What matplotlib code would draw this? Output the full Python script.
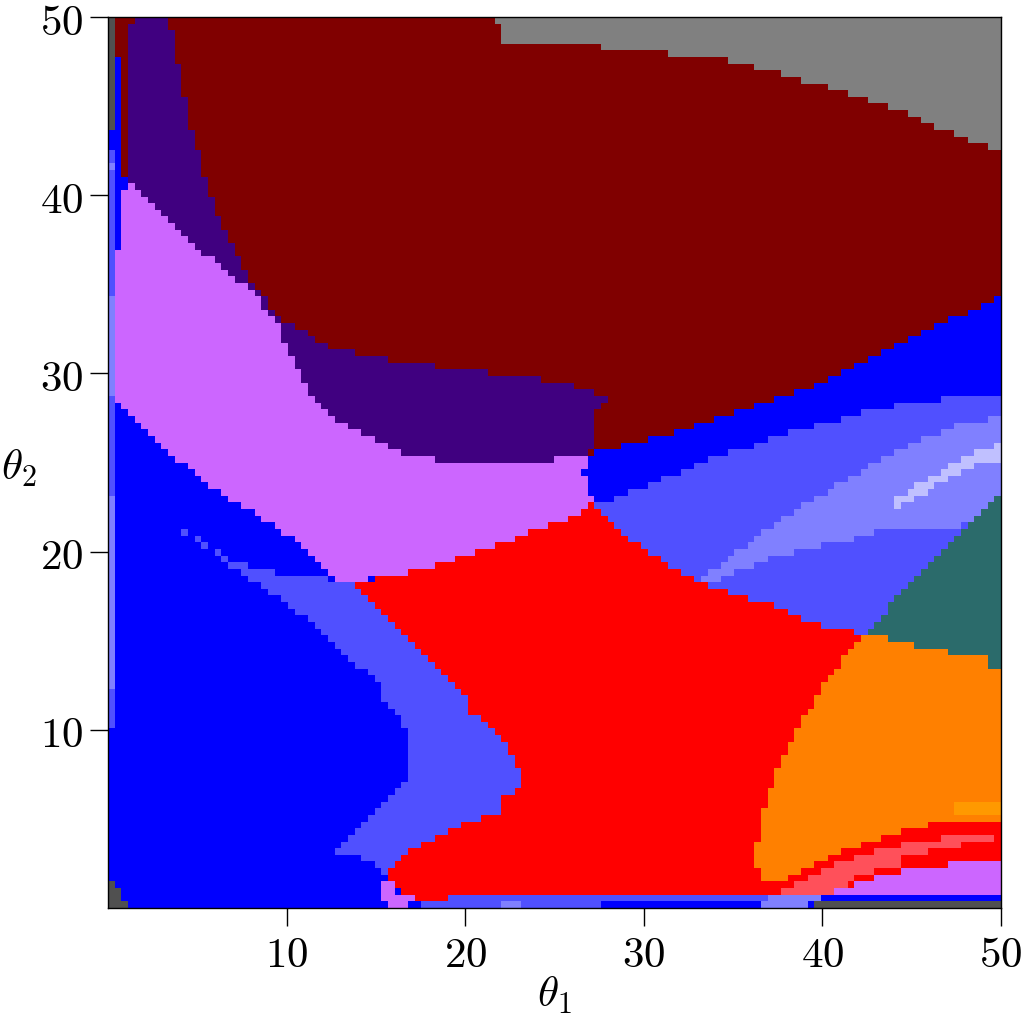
import numpy as np
import matplotlib
matplotlib.use('Agg')
import matplotlib.pyplot as plt
from matplotlib.path import Path
from matplotlib.colors import ListedColormap

# region colours, index = label in the grid
colorNames = ['blue', 'maroon', 'grey', 'indigo', 'violet', 'peri', 'light',
              'vlight', 'red', 'orange', 'lorange', 'teal', 'pink', 'dgrey']
colorValues = ['#0000FF', '#800000', '#808080', '#400080', '#CC66FF', '#5050FF',
               '#8080FF', '#C0C0FF', '#FF0000', '#FF8000', '#FF9900', '#2B6B6B',
               '#FF505A', '#505050']

# region boundaries in (theta1, theta2)
maroon = [(0, 50), (50, 50), (50, 34.25), (47.14, 33.02), (44.34, 31.61), (42.10, 30.49),
          (40.26, 29.65), (38.19, 28.81), (35.95, 28.08), (34.27, 27.58), (32.42, 26.85),
          (29.62, 26.12), (27.72, 25.73), (26.94, 25.34), (15.0, 27.0), (6.0, 33.0),
          (1.5, 38.0), (0, 38.0)]

grey = [(21.73, 50), (22.06, 48.6), (26.43, 48.43), (30.46, 48.04), (34.32, 47.65),
        (37.85, 46.80), (41.38, 45.68), (44.85, 44.51), (47.59, 43.33), (50, 42.43), (50, 50)]

violetTop = [(0.78, 40.19), (1.23, 40.58), (1.90, 40.13), (3.08, 39.01), (4.31, 37.78),
             (5.43, 36.66), (7.00, 35.43), (8.12, 34.70), (8.51, 33.97), (9.35, 33.13),
             (9.74, 32.01), (10.47, 30.38), (11.31, 28.92), (12.43, 27.58), (13.66, 26.85),
             (15.23, 26.12), (17.08, 25.34), (19.54, 25.00), (25.03, 25.00), (25.03, 25.34),
             (26.88, 25.34)]

violetBottom = [(26.88, 24.61), (26.54, 24.44), (26.71, 24.16), (27.27, 22.65), (26.88, 22.53),
                (25.42, 21.69), (24.19, 21.36), (22.23, 20.57), (20.27, 19.84), (19.15, 19.45),
                (17.58, 19.00), (15.62, 18.61), (13.27, 18.27), (12.43, 18.61), (10.92, 20.24),
                (9.74, 21.08), (8.62, 21.80), (7.39, 22.65), (6.16, 23.37), (4.70, 24.61),
                (3.47, 25.34), (2.35, 26.46), (1.12, 27.69), (0.39, 28.53), (0.39, 36.77),
                (0.78, 36.77)]

indigoOuter = [(1.18, 49.50), (1.57, 49.50), (1.57, 50.0), (3.08, 50.0), (3.47, 49.50),
               (3.92, 47.31), (4.31, 45.35), (4.70, 43.39), (5.04, 42.54), (5.43, 40.97),
               (5.82, 39.74), (6.61, 37.78), (7.39, 36.27), (8.12, 35.09), (8.90, 33.97),
               (9.74, 33.02), (10.92, 32.34), (12.43, 31.50), (13.66, 31.17), (15.62, 30.77),
               (18.76, 30.33), (22.23, 29.93), (25.03, 29.54), (26.54, 29.20), (27.72, 28.81),
               (28.11, 28.42), (27.38, 28.08), (27.38, 26.12), (26.88, 25.73)]

periTop = [(27.27, 22.53), (28.11, 22.81), (28.84, 23.15), (29.68, 23.54), (30.80, 23.93),
           (31.63, 24.33), (32.75, 24.72), (33.54, 25.17), (34.71, 25.56), (35.95, 25.90),
           (37.07, 26.29), (38.19, 26.68), (39.47, 27.02), (40.99, 27.41), (42.50, 27.86),
           (44.51, 28.25), (47.26, 28.64), (50.0, 28.81)]

lightBand = [(50, 27.58), (47.98, 27.24), (46.02, 26.46), (44.51, 25.73), (42.95, 25.00),
             (41.71, 24.16), (40.26, 23.37), (39.03, 22.65), (37.79, 21.80), (36.67, 21.08),
             (35.83, 20.24), (34.71, 19.84), (34.38, 19.11), (33.15, 18.61), (33.15, 18.27),
             (33.87, 18.27), (34.71, 18.61), (35.83, 19.11), (36.67, 19.45), (37.79, 19.84),
             (39.42, 20.24), (40.99, 20.57), (42.95, 20.96), (42.95, 21.41), (47.59, 21.41),
             (48.38, 21.80), (48.71, 22.20), (50, 23.32)]

vlightBand = [(50, 26.10), (48.70, 25.70), (47.30, 24.90), (45.60, 23.95), (44.00, 22.85),
              (44.30, 22.45), (45.80, 23.35), (47.50, 24.30), (48.90, 24.95), (50, 25.10)]

teal = [(50, 23.32), (49.55, 23.32), (49.50, 22.93), (49.10, 22.53), (48.71, 22.20),
        (48.38, 21.80), (47.98, 21.41), (47.59, 20.96), (47.26, 20.57), (46.75, 20.24),
        (46.42, 19.84), (46.02, 19.45), (45.63, 19.00), (45.18, 18.61), (44.79, 18.27),
        (44.46, 17.77), (44.06, 17.32), (43.67, 16.76), (43.34, 16.48), (42.95, 16.03),
        (42.55, 15.64), (42.50, 15.19), (43.67, 15.19), (43.67, 14.80), (45.30, 14.80),
        (45.30, 14.41), (46.86, 14.41), (46.86, 14.01), (49.16, 14.01), (49.16, 13.57),
        (50, 13.57)]

orangeBox = [(35.5, 0.67), (50, 0.67), (50, 15.19), (35.5, 15.19)]

redTop = [(13.66, 18.27), (15.62, 18.61), (17.58, 19.00), (19.15, 19.45), (20.27, 19.84),
          (22.23, 20.57), (24.19, 21.36), (25.42, 21.69), (26.88, 22.53), (27.27, 22.65),
          (27.66, 22.20), (28.00, 21.80), (28.39, 21.41), (28.84, 20.96), (29.23, 20.57),
          (29.96, 20.24), (30.35, 19.84), (31.08, 19.45), (31.91, 19.00), (32.75, 18.61),
          (33.15, 18.27), (34.27, 17.88), (35.50, 17.49), (36.67, 17.15), (37.79, 16.76),
          (38.58, 16.31), (39.75, 15.92), (39.75, 15.53), (41.71, 15.53), (41.71, 15.19),
          (42.11, 15.19)]

redRight = [(41.71, 14.80), (41.38, 14.41), (40.99, 13.57), (40.59, 13.12), (40.20, 12.72),
            (39.81, 12.00), (39.42, 11.27), (39.03, 10.76), (38.63, 10.03), (38.24, 9.30),
            (37.85, 8.52), (37.46, 7.68), (37.07, 6.56), (36.67, 5.27), (36.34, 3.42),
            (36.34, 2.19), (36.67, 2.19), (36.67, 1.46), (37.79, 1.46), (37.79, 0.67)]

redLeft = [(17.08, 0.67), (15.96, 1.07), (15.96, 1.46), (15.62, 1.79), (15.96, 2.19),
           (16.35, 2.58), (16.74, 3.03), (17.08, 3.42), (17.92, 3.76), (18.76, 4.15),
           (19.54, 4.54), (20.27, 4.88), (21.00, 4.88), (21.00, 5.38), (21.84, 5.38),
           (21.84, 5.83), (22.23, 6.22), (22.62, 6.22), (22.62, 6.56), (22.96, 6.56),
           (22.96, 7.68), (22.62, 7.68), (22.62, 8.52), (22.23, 9.30), (21.84, 9.64),
           (21.50, 10.03), (21.11, 10.43), (20.66, 10.71), (20.27, 10.99), (20.27, 11.60),
           (19.88, 12.00), (19.54, 12.39), (19.15, 12.84), (18.76, 13.23), (18.31, 13.68),
           (17.92, 14.07), (17.58, 14.41), (17.08, 14.80), (16.74, 15.19), (16.35, 15.53),
           (15.96, 15.92), (15.62, 16.31), (15.23, 16.76), (14.84, 17.15), (14.39, 17.49),
           (14.00, 17.88)]

periLeftTop = [(3.92, 21.69), (4.70, 20.96), (5.82, 20.24), (7.00, 19.45), (8.96, 19.00),
               (10.08, 18.61), (12.04, 18.61), (12.43, 18.27), (13.66, 18.27), (16.0, 18.0),
               (21.0, 13.0), (24.0, 8.0), (24.0, 6.0), (20.0, 4.0), (15.62, 1.79)]

periLeftBottom = [(15.23, 2.19), (14.39, 2.63), (13.66, 3.03), (12.82, 3.03), (12.82, 3.42),
                  (13.66, 4.15), (14.84, 5.38), (15.23, 5.83), (16.35, 6.95), (16.74, 6.95),
                  (16.74, 9.64), (16.35, 10.43), (15.96, 11.27), (15.23, 11.60), (15.23, 12.39),
                  (14.39, 13.23), (13.16, 14.41), (12.43, 14.91), (11.70, 15.64), (10.92, 16.37),
                  (9.74, 17.15), (8.96, 17.88), (7.78, 18.61), (6.55, 19.45), (5.43, 20.24),
                  (4.31, 20.96), (3.92, 21.41)]

redBand = [(37.79, 0.67), (37.79, 1.46), (38.19, 1.79), (39.03, 2.19), (39.87, 2.58),
           (40.59, 3.03), (41.71, 3.42), (42.95, 3.76), (44.18, 4.15), (45.30, 4.54),
           (46.86, 4.88), (50, 4.88), (50, 0.67)]

pink = [(37.79, 0.67), (37.79, 1.07), (38.30, 1.07), (38.30, 1.46), (39.03, 1.46), (39.03, 1.79),
        (39.87, 1.79), (39.87, 2.19), (40.59, 2.19), (40.59, 2.58), (41.71, 2.58), (41.71, 3.03),
        (42.95, 3.03), (42.95, 3.42), (44.51, 3.42), (44.51, 3.76), (46.47, 3.76), (46.47, 4.15),
        (49.55, 4.15), (49.55, 3.76), (47.59, 3.76), (47.59, 3.42), (46.02, 3.42), (46.02, 3.03),
        (44.50, 3.03), (44.50, 2.19), (42.95, 2.19), (42.95, 1.79), (41.71, 1.79), (41.71, 1.46),
        (41.38, 1.46), (41.38, 1.07), (40.54, 1.07), (40.54, 0.67)]

violetCorner = [(40.54, 0.67), (50, 0.67), (50, 2.58), (46.86, 2.58), (46.86, 2.19),
                (44.51, 2.19), (44.51, 1.79), (42.95, 1.79), (42.95, 1.46), (41.71, 1.46),
                (41.71, 1.07), (40.54, 1.07)]

# thin strips along the edges: (theta1 from, theta1 to, theta2 from, theta2 to, colour)
strips = [
  (0, 0.39, 43.67, 50, 'dgrey'), (0, 0.39, 42.54, 43.67, 'blue'),
  (0, 0.39, 34.30, 42.54, 'peri'), (0, 0.39, 41.31, 41.82, 'light'),
  (0, 0.39, 28.81, 34.30, 'light'), (0, 0.39, 23.04, 28.81, 'peri'),
  (0, 0.39, 12.39, 23.04, 'light'), (0, 0.39, 10.03, 12.39, 'peri'),
  (0, 0.39, 1.46, 10.03, 'blue'), (0, 0.39, 0, 1.46, 'dgrey'),
  (0.39, 0.78, 36.77, 47.65, 'blue'), (0.78, 1.18, 40.19, 40.97, 'blue'),
  (0.39, 0.78, 0, 1.07, 'dgrey'), (0.78, 1.12, 0, 0.34, 'dgrey'),
  (15.23, 15.96, 0.67, 1.46, 'violet'), (15.23, 17.08, 0.34, 0.67, 'violet'),
  (17.08, 19.15, 0.34, 0.67, 'red'), (19.15, 37.07, 0.34, 0.67, 'peri'),
  (37.07, 39.87, 0.34, 0.67, 'light'),
  (15.62, 16.74, 0, 0.34, 'violet'), (17.47, 21.84, 0, 0.34, 'peri'),
  (21.84, 22.96, 0, 0.34, 'light'), (22.96, 27.55, 0, 0.34, 'peri'),
  (36.67, 39.03, 0, 0.34, 'light'), (39.42, 50, 0, 0.34, 'dgrey'),
  (47.26, 50, 5.27, 6.11, 'lorange'),
]

xTicks = [10, 20, 30, 40, 50]
yTicks = [10, 20, 30, 40, 50]

N = 134


def buildGrid():
  step = 50.0 / N
  centers = (np.arange(N) + 0.5) * step
  gx, gy = np.meshgrid(centers, centers)
  pts = np.column_stack([gx.ravel(), gy.ravel()])
  grid = np.full((N, N), colorNames.index('blue'))

  def paint(poly, name):
    mask = Path(poly).contains_points(pts).reshape(N, N)
    grid[mask] = colorNames.index(name)

  paint(maroon, 'maroon')
  paint(grey, 'grey')
  paint(indigoOuter + violetTop[:0:-1], 'indigo')
  paint(violetTop + violetBottom, 'violet')
  paint(periLeftTop + periLeftBottom, 'peri')
  paint(periTop + [(50, 12), (30, 12)], 'peri')
  paint(lightBand, 'light')
  paint(vlightBand, 'vlight')
  paint(orangeBox, 'orange')
  paint(teal, 'teal')
  paint(redTop + redRight + redLeft, 'red')
  paint(redBand, 'red')
  paint(pink, 'pink')
  paint(violetCorner, 'violet')

  for x0, x1, y0, y1, name in strips:
    m = (gx >= x0) & (gx < x1) & (gy >= y0) & (gy < y1)
    grid[m] = colorNames.index(name)
  return grid


def createGraph(grid):
  plt.rcParams['mathtext.fontset'] = 'cm'
  fig = plt.figure(figsize=(10.24, 10.20), dpi=100)
  ax = fig.add_axes([0.1055, 0.1088, 0.872, 0.8735])
  cmap = ListedColormap(colorValues)
  ax.imshow(grid, cmap=cmap, vmin=-0.5, vmax=len(colorValues) - 0.5, origin='lower',
            extent=[0, 50, 0, 50], interpolation='nearest', aspect='auto')
  ax.set_xlim(0, 50)
  ax.set_ylim(0, 50)
  ax.set_xticks(xTicks)
  ax.set_xticklabels(['$%d$' % t for t in xTicks])
  ax.set_yticks(yTicks)
  ax.set_yticklabels(['$%d$' % t for t in yTicks])
  ax.tick_params(direction='out', length=13, width=1, labelsize=31, pad=5)
  for s in ax.spines.values():
    s.set_linewidth(1)

  ax.set_xlabel(r'$\theta_1$', fontsize=31, va='center')
  ax.xaxis.set_label_coords(0.5, -0.097)
  ax.set_ylabel(r'$\theta_2$', fontsize=31, rotation=0, va='center', ha='center')
  ax.yaxis.set_label_coords(-0.10, 0.495)

  fig.savefig('out.png', dpi=100)


def main():
  grid = buildGrid()
  createGraph(grid)


if __name__ == "__main__":
  main()
